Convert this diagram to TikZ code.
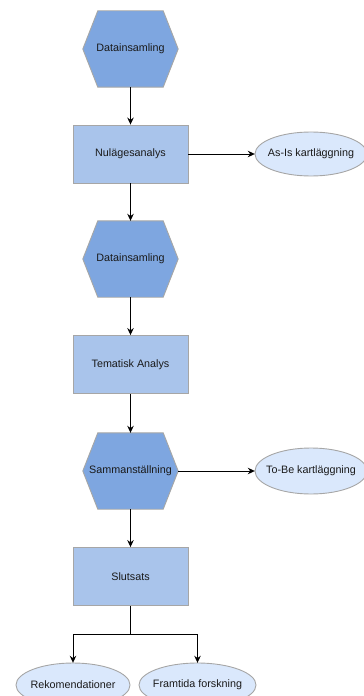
\documentclass[tikz,border=0pt]{standalone}
\usepackage{fontspec}
\setmainfont{Liberation Sans}
\usetikzlibrary{arrows.meta,backgrounds}

\definecolor{hexblue}{HTML}{7EA6E0}
\definecolor{boxblue}{HTML}{A9C4EB}
\definecolor{ovalblue}{HTML}{DAE8FC}
\definecolor{edgegray}{HTML}{A6A6A6}
\definecolor{inkgray}{HTML}{1A1A1A}

\tikzset{
  every node/.style={font=\fontsize{10.8}{12}\selectfont, text=inkgray, inner sep=0pt},
  hexbox/.style={minimum width=95bp, minimum height=76bp},
  hexshape/.style={fill=hexblue, draw=edgegray, line width=0.9bp},
  stepbox/.style={rectangle, fill=boxblue, draw=edgegray, line width=0.9bp,
                  minimum width=115bp, minimum height=58bp},
  ovalbox/.style={minimum width=#1, minimum height=44bp},
  ovalbox/.default=112bp,
  ovalshape/.style={fill=ovalblue, draw=edgegray, line width=0.9bp},
  flow/.style={draw=black, line width=0.9bp, -{Stealth[length=7bp,width=6.5bp]}},
  link/.style={draw=black, line width=0.9bp}
}

% flat-topped hexagon drawn behind a node's box
\newcommand{\hexaround}[1]{%
  \begin{scope}[on background layer]
    \draw[hexshape] (#1.west) -- ([xshift=15bp]#1.north west) -- ([xshift=-15bp]#1.north east)
      -- (#1.east) -- ([xshift=-15bp]#1.south east) -- ([xshift=15bp]#1.south west) -- cycle;
  \end{scope}}
% ellipse drawn behind a node, inscribed in its box
\newcommand{\ovalaround}[3]{%
  \begin{scope}[on background layer]
    \draw[ovalshape] (#1.center) ellipse [x radius=#2, y radius=#3];
  \end{scope}}

\begin{document}
\begin{tikzpicture}[x=1bp, y=-1bp]
  \useasboundingbox (0,0) rectangle (363,696);
  \clip (0,0) rectangle (363,696);

  % main column
  \node[hexbox] (collect1) at (130.5,49) {Datainsamling};
  \hexaround{collect1}
  \node[stepbox] (current) at (130.5,154) {Nulägesanalys};
  \node[hexbox] (collect2) at (130.5,259) {Datainsamling};
  \hexaround{collect2}
  \node[stepbox] (theme) at (130.5,364.5) {Tematisk Analys};
  \node[hexbox] (merge) at (130.5,471) {Sammanställning};
  \hexaround{merge}
  \node[stepbox] (concl) at (130.5,576.5) {Slutsats};

  % side results
  \node[ovalbox] (asis) at (311,154) {As-Is kartläggning};
  \ovalaround{asis}{56bp}{22bp}
  \node[ovalbox] (tobe) at (311,471) {To-Be kartläggning};
  \ovalaround{tobe}{56bp}{23bp}

  % outcomes
  \node[ovalbox=114bp] (recs) at (73,685) {Rekomendationer};
  \ovalaround{recs}{57bp}{22bp}
  \node[ovalbox=117bp] (future) at (197.5,685) {Framtida forskning};
  \ovalaround{future}{58.5bp}{22bp}

  % connectors
  \draw[flow] (collect1) -- (current);
  \draw[flow] (current) -- (collect2);
  \draw[flow] (collect2) -- (theme);
  \draw[flow] (theme) -- (merge);
  \draw[flow] (merge) -- (concl);
  \draw[flow] (current.east) -- (asis.west);
  \draw[flow] (merge.east) -- (tobe.west);

  \coordinate (split) at (130.5,634);
  \draw[link] (concl.south) -- (split);
  \draw[flow] (split) -| (recs.north);
  \draw[flow] (split) -| (future.north);
\end{tikzpicture}
\end{document}
